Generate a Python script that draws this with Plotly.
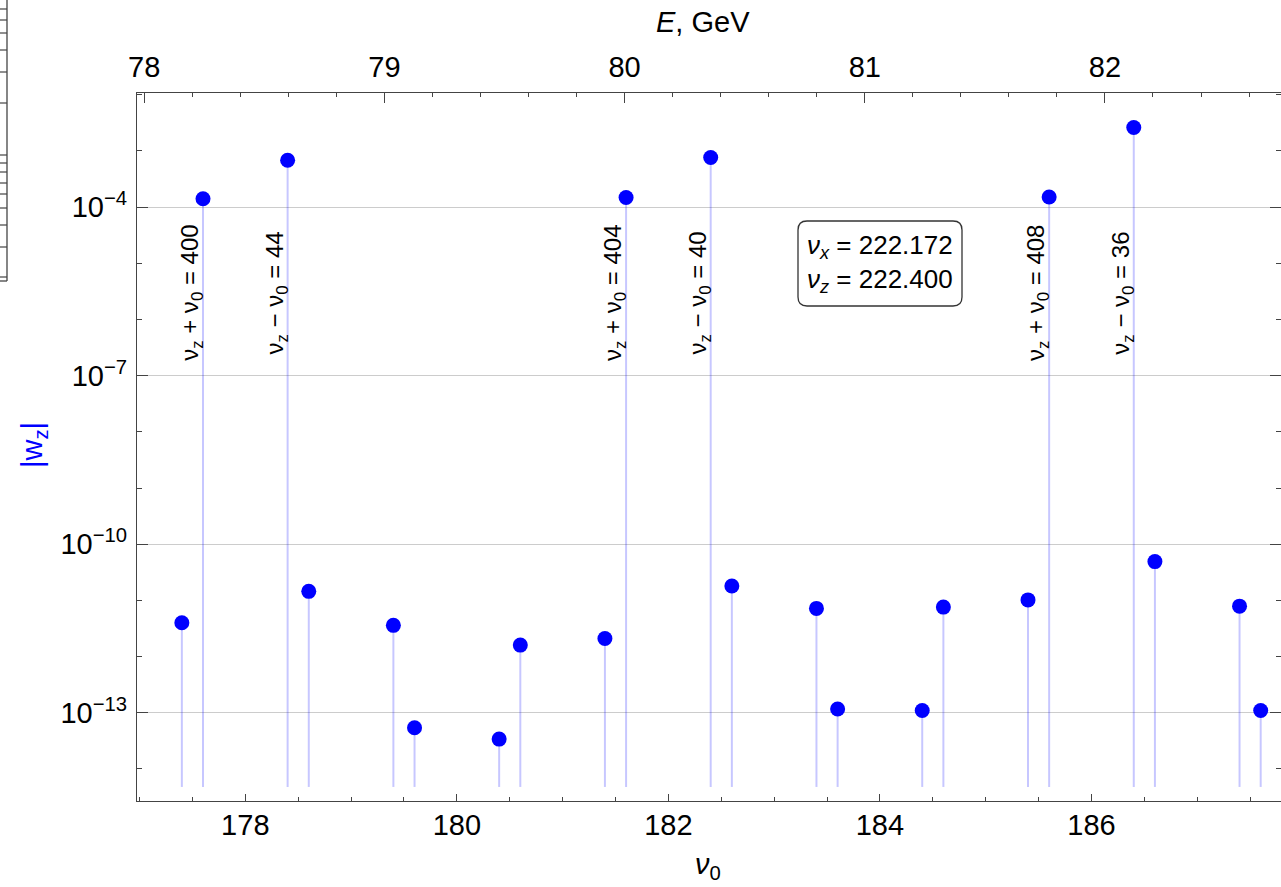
import math
import plotly.graph_objects as go

# ---------------- data ----------------
NU0 = [177.4, 177.6, 178.4, 178.6, 179.4, 179.6, 180.4, 180.6, 181.4, 181.6, 182.4,
       182.6, 183.4, 183.6, 184.4, 184.6, 185.4, 185.6, 186.4, 186.6, 187.4, 187.6]
W_Z = [4.0e-12, 1.41e-4, 6.8e-4, 1.45e-11, 3.6e-12, 5.4e-14, 3.4e-14, 1.6e-12, 2.1e-12, 1.48e-4, 7.6e-4,
       1.8e-11, 7.2e-12, 1.17e-13, 1.1e-13, 7.6e-12, 1.02e-11, 1.51e-4, 2.6e-3, 4.9e-11, 7.9e-12, 1.1e-13]

RES_NU0 = [177.6, 178.4, 181.6, 182.4, 185.6, 186.4]
RES_SIGN = ["+", "−", "+", "−", "+", "−"]
RES_VALUE = [400, 44, 404, 40, 408, 36]

NU_X = "222.172"
NU_Z = "222.400"

X_TICKS = [178, 180, 182, 184, 186]
E_TICKS = [78, 79, 80, 81, 82]
Y_TICKS = [1e-13, 1e-10, 1e-7, 1e-4]
Y_TICK_TEXT = ["10<sup>−13</sup>", "10<sup>−10</sup>", "10<sup>−7</sup>", "10<sup>−4</sup>"]
Y_MINOR = [10.0 ** k for k in range(-14, -1)]
FILL_BASE = 10 ** -14.32

# ---------------- layout constants ----------------
W, H = 1281, 887
ML, MR, MT, MB = 137, 0, 93, 86
PW, PH = W - ML - MR, H - MT - MB
AX = "#444444"
FONT = "Liberation Sans, Arial, sans-serif"


def px_x(p):
    return (p - ML) / PW


def px_y(p):
    return (H - MB - p) / PH


fig = go.Figure()

# stems (filling to bottom)
sx, sy = [], []
for x, y in zip(NU0, W_Z):
    sx += [x, x, None]
    sy += [FILL_BASE, y, None]
fig.add_trace(go.Scatter(x=sx, y=sy, mode="lines",
                         line=dict(color="rgba(0,0,255,0.22)", width=2),
                         hoverinfo="skip", showlegend=False))
# points
fig.add_trace(go.Scatter(x=NU0, y=W_Z, mode="markers",
                         marker=dict(color="#0000ff", size=15, line=dict(width=0)),
                         showlegend=False))
# invisible trace to activate the top energy axis
fig.add_trace(go.Scatter(x=E_TICKS, y=[FILL_BASE] * len(E_TICKS), xaxis="x2", yaxis="y",
                         mode="markers", marker=dict(opacity=0), hoverinfo="skip",
                         showlegend=False))

tickfont = dict(family=FONT, size=29, color="black")

fig.update_layout(
    width=W, height=H,
    margin=dict(l=ML, r=MR, t=MT, b=MB),
    paper_bgcolor="white", plot_bgcolor="white",
    font=dict(family=FONT, color="black"),
    showlegend=False,
    xaxis=dict(
        range=[176.976, 187.792], tickmode="array", tickvals=X_TICKS,
        ticks="inside", ticklen=7, tickwidth=1.3, tickcolor=AX,
        showline=True, linecolor=AX, linewidth=1.3, showgrid=False, zeroline=False,
        tickfont=tickfont, ticklabelstandoff=-2,
        minor=dict(tickmode="linear", tick0=177, dtick=0.5, ticks="inside",
                   ticklen=4, tickwidth=1.2, tickcolor=AX, showgrid=False),
    ),
    xaxis2=dict(
        overlaying="x", side="top", anchor="y",
        range=[77.970, 82.733], tickmode="array", tickvals=E_TICKS,
        ticks="inside", ticklen=10, tickwidth=1.3, tickcolor=AX,
        showline=True, linecolor=AX, linewidth=1.3, showgrid=False, zeroline=False,
        tickfont=tickfont, ticklabelstandoff=3,
        minor=dict(tickmode="linear", tick0=78, dtick=0.2, ticks="inside",
                   ticklen=4, tickwidth=1.2, tickcolor=AX, showgrid=False),
    ),
    yaxis=dict(
        type="log", range=[-14.57, -1.97], tickmode="array",
        tickvals=Y_TICKS, ticktext=Y_TICK_TEXT,
        ticks="inside", ticklen=11, tickwidth=1.3, tickcolor=AX,
        showline=True, linecolor=AX, linewidth=1.3, mirror="ticks",
        showgrid=True, gridcolor="#cccccc", gridwidth=1, zeroline=False,
        tickfont=tickfont, ticklabelstandoff=3,
        minor=dict(tickmode="array", tickvals=Y_MINOR, ticks="inside",
                   ticklen=5, tickwidth=1.2, tickcolor=AX, showgrid=False),
    ),
)

annotations = []
# resonance labels (rotated)
LABEL_LOGY = -5.527
for x, s, v in zip(RES_NU0, RES_SIGN, RES_VALUE):
    annotations.append(dict(
        x=x, y=LABEL_LOGY, xref="x", yref="y", xanchor="center", yanchor="middle",
        xshift=-11, textangle=-90, showarrow=False,
        text=f"ν<sub>z</sub> {s} ν<sub>0</sub> = {v}",
        font=dict(family=FONT, size=24, color="black")))

# tune box text
annotations.append(dict(
    x=px_x(880), y=px_y(263.5), xref="paper", yref="paper",
    xanchor="center", yanchor="middle", showarrow=False, align="left",
    text=f"<i>ν<sub>x</sub></i> = {NU_X}<br><i>ν<sub>z</sub></i> = {NU_Z}",
    font=dict(family=FONT, size=26, color="black")))

# axis titles
annotations.append(dict(x=px_x(708), y=px_y(866), xref="paper", yref="paper",
                        xanchor="center", yanchor="middle", showarrow=False,
                        text="<i>ν</i><sub>0</sub>", font=dict(family=FONT, size=29)))
annotations.append(dict(x=px_x(703), y=px_y(22), xref="paper", yref="paper",
                        xanchor="center", yanchor="middle", showarrow=False,
                        text="<i>E</i>, GeV", font=dict(family=FONT, size=29)))
annotations.append(dict(x=px_x(34), y=px_y(445), xref="paper", yref="paper",
                        xanchor="center", yanchor="middle", showarrow=False, textangle=-90,
                        text="|w<sub>z</sub>|", font=dict(family=FONT, size=29, color="#0000ff")))
fig.update_layout(annotations=annotations)

# rounded frame around the tune box
bx0, bx1 = px_x(798), px_x(962)
by0, by1 = px_y(306), px_y(221)
rx, ry = 9 / PW, 9 / PH
path = (f"M {bx0+rx},{by0} L {bx1-rx},{by0} Q {bx1},{by0} {bx1},{by0+ry} "
        f"L {bx1},{by1-ry} Q {bx1},{by1} {bx1-rx},{by1} L {bx0+rx},{by1} "
        f"Q {bx0},{by1} {bx0},{by1-ry} L {bx0},{by0+ry} Q {bx0},{by0} {bx0+rx},{by0} Z")
shapes = [dict(type="path", path=path, xref="paper", yref="paper",
               line=dict(color="#333333", width=1.3), fillcolor="white", layer="above")]

# fragment of the neighbouring panel's frame at the left edge
FRAG_TICKS_PX = [9, 20, 33, 50, 72, 103, 155, 163, 172, 183, 194, 208, 225, 247, 277]
shapes.append(dict(type="line", xref="paper", yref="paper", x0=px_x(7), x1=px_x(7),
                   y0=px_y(0), y1=px_y(281), line=dict(color=AX, width=1.3)))
shapes.append(dict(type="line", xref="paper", yref="paper", x0=px_x(0), x1=px_x(7),
                   y0=px_y(281), y1=px_y(281), line=dict(color=AX, width=1.3)))
for t in FRAG_TICKS_PX:
    shapes.append(dict(type="line", xref="paper", yref="paper", x0=px_x(0), x1=px_x(7),
                       y0=px_y(t), y1=px_y(t), line=dict(color=AX, width=1.2)))
fig.update_layout(shapes=shapes)

fig.write_html("out.html")
